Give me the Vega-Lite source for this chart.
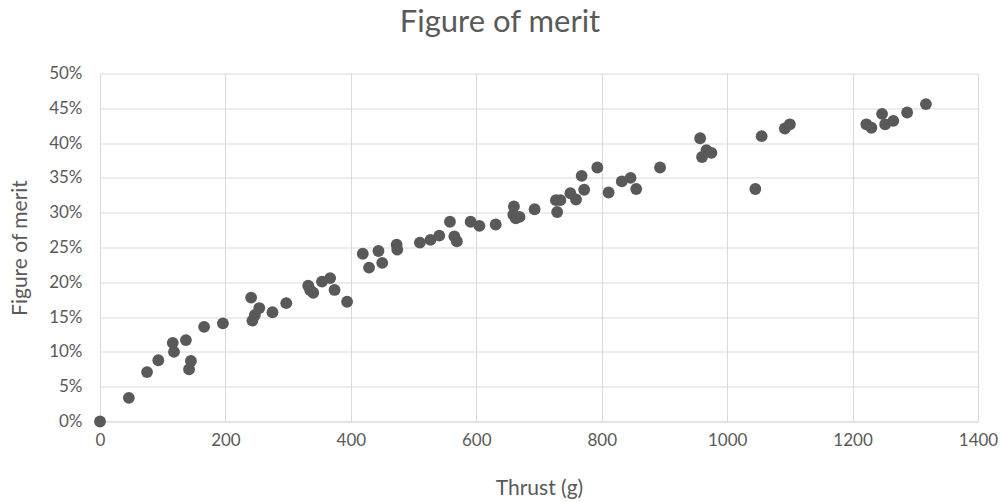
{
  "$schema": "https://vega.github.io/schema/vega-lite/v6.json",
  "width": 878,
  "height": 348,
  "autosize": {"type": "none"},
  "padding": {"left": 100, "top": 73.5, "right": 27, "bottom": 80.5},
  "background": "white",
  "title": {
    "text": "Figure of merit",
    "font": "Lato",
    "fontSize": 31,
    "fontWeight": "normal",
    "color": "#595959",
    "anchor": "middle",
    "dx": -39,
    "offset": 26
  },
  "config": {
    "view": {"stroke": null},
    "font": "Lato"
  },
  "data": {
    "values": [
      {"thrust": 0, "fom": 0},
      {"thrust": 46, "fom": 0.034},
      {"thrust": 75, "fom": 0.071},
      {"thrust": 93, "fom": 0.088},
      {"thrust": 116, "fom": 0.113},
      {"thrust": 118, "fom": 0.100},
      {"thrust": 137, "fom": 0.117},
      {"thrust": 145, "fom": 0.087},
      {"thrust": 142, "fom": 0.075},
      {"thrust": 166, "fom": 0.136},
      {"thrust": 196, "fom": 0.141},
      {"thrust": 241, "fom": 0.178},
      {"thrust": 254, "fom": 0.163},
      {"thrust": 247, "fom": 0.153},
      {"thrust": 243, "fom": 0.145},
      {"thrust": 275, "fom": 0.157},
      {"thrust": 297, "fom": 0.170},
      {"thrust": 332, "fom": 0.195},
      {"thrust": 335, "fom": 0.189},
      {"thrust": 340, "fom": 0.185},
      {"thrust": 354, "fom": 0.201},
      {"thrust": 367, "fom": 0.206},
      {"thrust": 374, "fom": 0.189},
      {"thrust": 394, "fom": 0.172},
      {"thrust": 419, "fom": 0.241},
      {"thrust": 444, "fom": 0.245},
      {"thrust": 429, "fom": 0.221},
      {"thrust": 450, "fom": 0.228},
      {"thrust": 473, "fom": 0.254},
      {"thrust": 474, "fom": 0.247},
      {"thrust": 510, "fom": 0.257},
      {"thrust": 527, "fom": 0.261},
      {"thrust": 541, "fom": 0.267},
      {"thrust": 558, "fom": 0.287},
      {"thrust": 565, "fom": 0.266},
      {"thrust": 569, "fom": 0.259},
      {"thrust": 591, "fom": 0.287},
      {"thrust": 605, "fom": 0.281},
      {"thrust": 631, "fom": 0.283},
      {"thrust": 660, "fom": 0.309},
      {"thrust": 659, "fom": 0.297},
      {"thrust": 663, "fom": 0.292},
      {"thrust": 669, "fom": 0.294},
      {"thrust": 693, "fom": 0.305},
      {"thrust": 727, "fom": 0.318},
      {"thrust": 734, "fom": 0.318},
      {"thrust": 729, "fom": 0.301},
      {"thrust": 750, "fom": 0.328},
      {"thrust": 759, "fom": 0.319},
      {"thrust": 768, "fom": 0.353},
      {"thrust": 772, "fom": 0.333},
      {"thrust": 793, "fom": 0.365},
      {"thrust": 811, "fom": 0.329},
      {"thrust": 832, "fom": 0.345},
      {"thrust": 846, "fom": 0.350},
      {"thrust": 855, "fom": 0.334},
      {"thrust": 893, "fom": 0.365},
      {"thrust": 957, "fom": 0.407},
      {"thrust": 960, "fom": 0.380},
      {"thrust": 967, "fom": 0.390},
      {"thrust": 975, "fom": 0.386},
      {"thrust": 1045, "fom": 0.334},
      {"thrust": 1055, "fom": 0.410},
      {"thrust": 1092, "fom": 0.421},
      {"thrust": 1100, "fom": 0.427},
      {"thrust": 1222, "fom": 0.427},
      {"thrust": 1230, "fom": 0.422},
      {"thrust": 1247, "fom": 0.442},
      {"thrust": 1252, "fom": 0.427},
      {"thrust": 1265, "fom": 0.432},
      {"thrust": 1287, "fom": 0.444},
      {"thrust": 1317, "fom": 0.456}
    ]
  },
  "mark": {"type": "circle", "size": 140, "color": "#595959", "opacity": 1},
  "encoding": {
    "x": {
      "field": "thrust",
      "type": "quantitative",
      "scale": {"domain": [0, 1400], "nice": false, "zero": true},
      "axis": {
        "title": "Thrust (g)",
        "format": "d",
        "values": [0, 200, 400, 600, 800, 1000, 1200, 1400],
        "ticks": false,
        "domain": true,
        "domainColor": "#d9d9d9",
        "gridColor": "#d9d9d9",
        "labelFont": "Lato",
        "labelFontSize": 17,
        "labelColor": "#595959",
        "labelPadding": 11,
        "labelFlush": false,
        "titleFont": "Lato",
        "titleFontSize": 21,
        "titleFontWeight": "normal",
        "titleColor": "#595959",
        "titlePadding": 29
      }
    },
    "y": {
      "field": "fom",
      "type": "quantitative",
      "scale": {"domain": [0, 0.5], "nice": false},
      "axis": {
        "title": "Figure of merit",
        "format": ".0%",
        "values": [0, 0.05, 0.1, 0.15, 0.2, 0.25, 0.3, 0.35, 0.4, 0.45, 0.5],
        "ticks": false,
        "domain": false,
        "gridColor": "#d9d9d9",
        "labelFont": "Lato",
        "labelFontSize": 17,
        "labelColor": "#595959",
        "labelPadding": 18,
        "labelFlush": false,
        "titleFont": "Lato",
        "titleFontSize": 21,
        "titleFontWeight": "normal",
        "titleColor": "#595959",
        "titlePadding": 18
      }
    }
  }
}
